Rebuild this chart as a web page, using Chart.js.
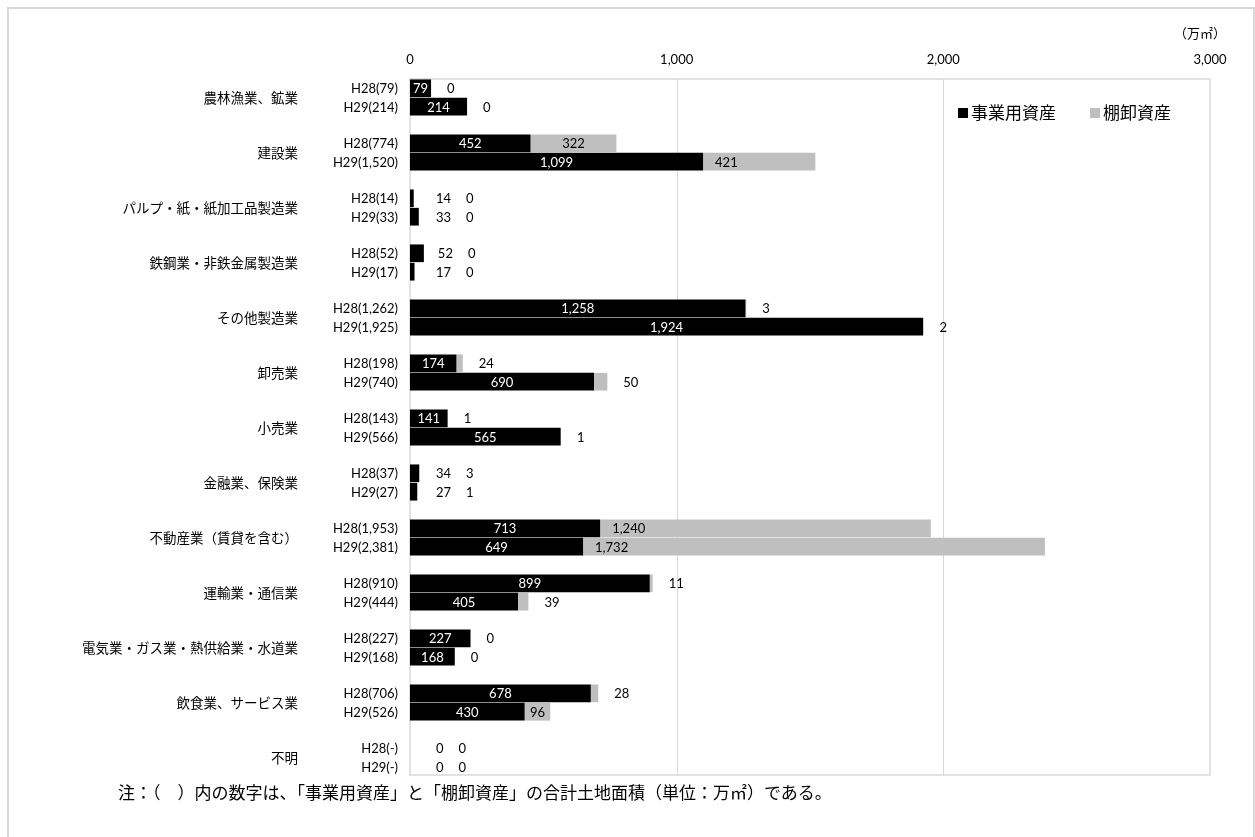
<!DOCTYPE html>
<html>
<head>
    <meta charset="utf-8">
    <title>業種別土地面積</title>
    <script src="https://cdn.jsdelivr.net/npm/chart.js@4.4.0/dist/chart.umd.min.js"></script>
    <style>
        body {
            margin: 0;
            background: #fff;
        }

        .frame {
            position: absolute;
            left: 7px;
            top: 7px;
            width: 1244px;
            height: 900px;
            border: 2px solid #d9d9d9;
        }

        .chart {
            position: absolute;
            left: 0;
            top: 0;
            width: 1255px;
            height: 837px;
        }

        .note {
            position: absolute;
            left: 118px;
            top: 781px;
            font: 17px 'Noto Sans CJK JP';
            line-height: 22px;
            color: #000;
        }
    </style>
</head>

<body>
<div class="frame"></div>
<div class="chart">
    <canvas id="landChart"></canvas>
</div>
<div class="note">注：（　）内の数字は、「事業用資産」と「棚卸資産」の合計土地面積（単位：万㎡）である。</div>

<script>
    const categories = ['農林漁業、鉱業', '建設業', 'パルプ・紙・紙加工品製造業', '鉄鋼業・非鉄金属製造業', 'その他製造業',
        '卸売業', '小売業', '金融業、保険業', '不動産業（賃貸を含む）', '運輸業・通信業',
        '電気業・ガス業・熱供給業・水道業', '飲食業、サービス業', '不明'];

    // H28
    const business28 = [79, 452, 14, 52, 1258, 174, 141, 34, 713, 899, 227, 678, 0];
    const inventory28 = [0, 322, 0, 0, 3, 24, 1, 3, 1240, 11, 0, 28, 0];
    const total28 = ['79', '774', '14', '52', '1,262', '198', '143', '37', '1,953', '910', '227', '706', '-'];

    // H29
    const business29 = [214, 1099, 33, 17, 1924, 690, 565, 27, 649, 405, 168, 430, 0];
    const inventory29 = [0, 421, 0, 0, 2, 50, 1, 1, 1732, 39, 0, 96, 0];
    const total29 = ['214', '1,520', '33', '17', '1,925', '740', '566', '27', '2,381', '444', '168', '526', '-'];

    const xTicks = [0, 1000, 2000, 3000];

    const numFont = '13px Lato';
    const jpFont = "'Noto Sans CJK JP'";
    const fmt = v => v.toLocaleString('en-US');

    // 枠線と目盛線（プロット枠は棒の帯より少し内側）
    const framePlugin = {
        id: 'plotFrame',
        beforeDatasetsDraw(chart) {
            const ctx = chart.ctx, a = chart.chartArea, xs = chart.scales.x;
            const top = a.top + 9, bottom = a.bottom - 10;
            ctx.save();
            ctx.strokeStyle = '#d9d9d9';
            ctx.lineWidth = 1;
            xTicks.slice(1, -1).forEach(v => {
                const px = Math.round(xs.getPixelForValue(v)) + 0.5;
                ctx.beginPath();
                ctx.moveTo(px, top);
                ctx.lineTo(px, bottom);
                ctx.stroke();
            });
            ctx.lineWidth = 1.5;
            ctx.strokeRect(a.left, top, a.right - a.left, bottom - top);
            ctx.restore();
        }
    };

    // 棒のラベル
    const labelPlugin = {
        id: 'barLabels',
        afterDatasetsDraw(chart) {
            const ctx = chart.ctx;
            ctx.save();
            ctx.font = numFont;
            ctx.textBaseline = 'middle';
            [[0, 1], [2, 3]].forEach(pair => {
                const bMeta = chart.getDatasetMeta(pair[0]);
                const iMeta = chart.getDatasetMeta(pair[1]);
                bMeta.data.forEach((bar, k) => {
                    const bt = fmt(chart.data.datasets[pair[0]].data[k]);
                    const it = fmt(chart.data.datasets[pair[1]].data[k]);
                    const bw = ctx.measureText(bt).width;
                    const iw = ctx.measureText(it).width;
                    const seg = iMeta.data[k];
                    const y = bar.y + 1;
                    let next;
                    let inside = false;
                    if (bar.x - bar.base >= bw + 4) {
                        inside = true;
                        ctx.fillStyle = '#fff';
                        ctx.textAlign = 'center';
                        ctx.fillText(bt, (bar.x + bar.base) / 2, y);
                        next = seg.x + 16;
                    } else {
                        const lx = Math.max(bar.x + 14, 436);
                        ctx.fillStyle = '#000';
                        ctx.textAlign = 'left';
                        ctx.fillText(bt, lx, y);
                        next = lx + bw + 15;
                    }
                    const g0 = Math.min(seg.x, seg.base), g1 = Math.max(seg.x, seg.base);
                    const sw = g1 - g0;
                    ctx.fillStyle = '#000';
                    if (inside && sw > 100) {
                        ctx.textAlign = 'left';
                        ctx.fillText(it, g0 + 12, y);
                    } else if (inside && sw >= iw + 4) {
                        ctx.textAlign = 'center';
                        ctx.fillText(it, (g0 + g1) / 2, y);
                    } else {
                        ctx.textAlign = 'left';
                        ctx.fillText(it, next, y);
                    }
                });
            });
            ctx.restore();
        },
        afterDraw(chart) {
            const ctx = chart.ctx, a = chart.chartArea;
            ctx.save();
            // H28(…) / H29(…)
            ctx.font = numFont;
            ctx.fillStyle = '#000';
            ctx.textAlign = 'right';
            ctx.textBaseline = 'middle';
            chart.getDatasetMeta(0).data.forEach((bar, k) => {
                ctx.fillText('H28(' + total28[k] + ')', a.left - 12, bar.y + 1);
            });
            chart.getDatasetMeta(2).data.forEach((bar, k) => {
                ctx.fillText('H29(' + total29[k] + ')', a.left - 12, bar.y + 1);
            });

            // 単位
            ctx.font = '13px ' + jpFont;
            ctx.fillText('（万㎡）', a.right + 16, 33);

            // 凡例
            ctx.font = '17px ' + jpFont;
            ctx.textAlign = 'left';
            let lx = a.right - 252;
            const ly = 113;
            [0, 1].forEach(i => {
                const ds = chart.data.datasets[i];
                ctx.fillStyle = ds.backgroundColor;
                ctx.fillRect(lx, ly - 5, 10, 10);
                ctx.fillStyle = '#000';
                ctx.fillText(ds.label, lx + 13, ly);
                lx += 132;
            });
            ctx.restore();
        }
    };

    var ctx = document.getElementById('landChart').getContext('2d');
    var chart = new Chart(ctx, {
        type: 'bar',
        data: {
            labels: categories,
            datasets: [{
                label: '事業用資産',
                data: business28,
                stack: 'H28',
                backgroundColor: '#000000'
            }, {
                label: '棚卸資産',
                data: inventory28,
                stack: 'H28',
                backgroundColor: '#bfbfbf'
            }, {
                label: '事業用資産',
                data: business29,
                stack: 'H29',
                backgroundColor: '#000000'
            }, {
                label: '棚卸資産',
                data: inventory29,
                stack: 'H29',
                backgroundColor: '#bfbfbf'
            }]
        },
        options: {
            indexAxis: 'y',
            responsive: true,
            maintainAspectRatio: false,
            animation: false,
            categoryPercentage: 0.67,
            barPercentage: 0.96,
            layout: {
                padding: {left: 0, top: 0, right: 45, bottom: 52}
            },
            plugins: {
                legend: {display: false},
                tooltip: {enabled: false}
            },
            scales: {
                x: {
                    position: 'top',
                    stacked: true,
                    min: 0,
                    max: 3000,
                    afterBuildTicks: s => {
                        s.ticks = xTicks.map(v => ({value: v}));
                    },
                    afterFit: s => {
                        s.height = 70;
                        s.paddingLeft = 0;
                        s.paddingRight = 0;
                    },
                    ticks: {
                        padding: -6,
                        color: '#000',
                        font: {family: 'Lato', size: 13},
                        callback: v => fmt(v)
                    },
                    grid: {display: false},
                    border: {display: false}
                },
                y: {
                    stacked: true,
                    afterFit: s => {
                        s.width = 410;
                        s.paddingTop = 0;
                        s.paddingBottom = 0;
                    },
                    ticks: {
                        padding: 112,
                        color: '#000',
                        font: {family: 'Noto Sans CJK JP', size: 13.5}
                    },
                    grid: {display: false, drawTicks: false},
                    border: {display: false}
                }
            }
        },
        plugins: [framePlugin, labelPlugin]
    });
</script>
</body>
</html>
